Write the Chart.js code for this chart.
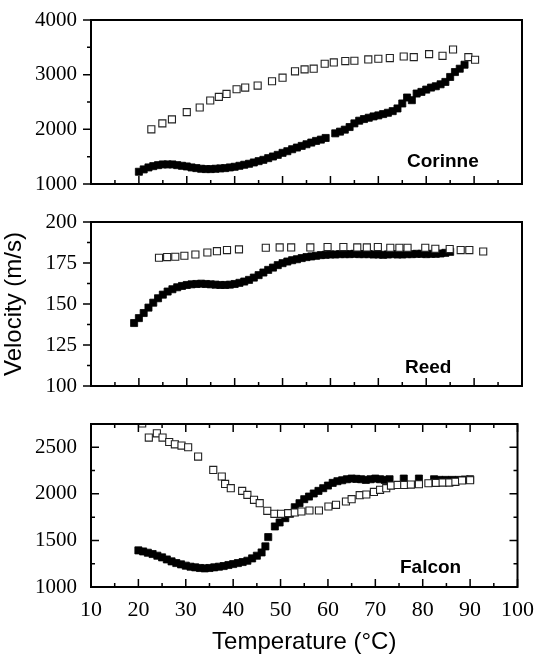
<!DOCTYPE html>
<html><head><meta charset="utf-8">
<script src="https://cdn.jsdelivr.net/npm/chart.js@4/dist/chart.umd.min.js"></script>
<style>
html,body{margin:0;padding:0;background:#fff;}
#wrap{position:relative;width:539px;height:659px;overflow:hidden;}
canvas{position:absolute;left:0;display:block;}
</style></head><body>
<div id="wrap">
<canvas id="c1" width="539" height="200" style="top:0;width:539px;height:200px"></canvas>
<canvas id="c2" width="539" height="200" style="top:200px;width:539px;height:200px"></canvas>
<canvas id="c3" width="539" height="259" style="top:400px;width:539px;height:259px"></canvas>
</div>
<script>
// ---------- data ----------
const xTicks = [10,20,30,40,50,60,70,80,90,100];
const corinneTicks = [1000,2000,3000,4000];
const reedTicks = [100,125,150,175,200];
const falconTicks = [1000,1500,2000,2500];

const corinneOpenT = [22.6,24.9,26.9,30.0,32.7,34.9,36.7,38.3,40.4,42.2,44.8,47.8,50.0,52.6,54.6,56.5,58.8,60.7,63.1,65.0,67.9,70.0,72.4,75.3,77.4,80.6,83.4,85.6,88.8,90.2];
const corinneOpenV = [2000,2109,2182,2315,2400,2527,2594,2648,2733,2764,2800,2879,2945,3061,3097,3109,3200,3224,3248,3255,3279,3291,3303,3333,3321,3376,3345,3461,3321,3273];
const corinneFilledT = [20,21,22,23,24,25,26,27,28,29,30,31,32,33,34,35,36,37,38,39,40,41,42,43,44,45,46,47,48,49,50,51,52,53,54,55,56,57,58,59,61,62,63,64,65,66,67,68,69,70,71,72,73,74,75,76,77,78,79,80,81,82,83,84,85,86,87,88];
const corinneFilledV = [1224,1267,1303,1327,1345,1358,1358,1358,1345,1333,1321,1303,1291,1279,1273,1273,1279,1285,1291,1303,1315,1333,1352,1370,1394,1418,1442,1473,1503,1533,1570,1600,1636,1667,1697,1727,1758,1788,1812,1842,1927,1958,1994,2042,2109,2158,2188,2212,2236,2255,2279,2303,2333,2382,2473,2582,2533,2655,2685,2727,2764,2788,2824,2867,2958,3048,3109,3182];

const reedOpenT = [24.2,25.9,27.6,29.5,31.8,34.3,36.3,38.4,40.9,46.5,49.4,51.8,55.8,59.4,62.7,65.6,67.6,69.9,72.5,74.4,76.1,79.8,81.9,84.9,87.2,89.0,91.9];
const reedOpenV = [178.2,178.6,178.8,179.4,180.2,181.4,182.2,182.9,183.3,184.3,184.5,184.5,184.5,184.7,184.7,184.5,184.5,184.7,184.3,184.3,184.3,184.3,183.7,183.5,182.9,182.9,182.0];
const reedFilledT = [19,20,21,22,23,24,25,26,27,28,29,30,31,32,33,34,35,36,37,38,39,40,41,42,43,44,45,46,47,48,49,50,51,52,53,54,55,56,57,58,59,60,61,62,63,64,65,66,67,68,69,70,71,72,73,74,75,76,77,78,79,80,81,82,83,84,85];
const reedFilledV = [138.4,141.4,144.5,147.8,150.8,153.5,155.7,157.6,159.0,160.2,161.0,161.6,162.0,162.2,162.4,162.2,162.0,161.8,161.6,161.6,161.8,162.2,162.9,163.7,164.7,166.1,167.6,169.2,170.8,172.2,173.7,174.9,175.9,176.7,177.3,178.0,178.6,179.0,179.4,179.8,180.0,180.2,180.2,180.4,180.4,180.4,180.6,180.4,180.4,180.4,180.2,180.2,180.0,180.2,180.4,180.2,180.2,180.4,180.4,180.6,180.6,180.4,180.6,180.6,180.8,181.2,181.8];

const falconOpenT = [20.8,22.2,23.9,25.1,26.5,27.7,29.1,30.5,32.6,35.8,37.6,38.3,39.5,41.9,43.0,44.4,45.6,47.2,48.7,50.1,51.6,53.0,54.4,56.1,58.1,60.1,61.7,63.8,65.0,66.7,68.1,69.7,71.0,72.3,73.3,74.7,76.1,77.5,79.2,81.2,82.8,84.2,85.6,86.9,88.3,90.0];
const falconOpenV = [2755,2604,2650,2604,2557,2532,2518,2500,2400,2257,2186,2107,2061,2032,1989,1936,1900,1818,1786,1786,1793,1800,1811,1821,1821,1864,1882,1918,1943,1986,1993,2021,2043,2061,2089,2096,2096,2100,2104,2114,2118,2121,2121,2129,2143,2146];
const falconFilledT = [20,21,22,23,24,25,26,27,28,29,30,31,32,33,34,35,36,37,38,39,40,41,42,43,44,45,46,46.8,47.4,48.8,49.8,51,52,53,54,55,56,57,58,59,60,61,62,63,64,65,66,67,68,69,70,71,72,73,76.0,79.2,82.4,83.5,84.8,86.2,87.6,88.9,90.0];
const falconFilledV = [1393,1382,1368,1354,1336,1318,1296,1275,1257,1243,1229,1218,1211,1204,1200,1204,1211,1218,1225,1236,1246,1257,1268,1282,1307,1336,1371,1436,1536,1650,1693,1739,1786,1857,1900,1943,1971,2004,2032,2061,2089,2118,2136,2146,2157,2164,2161,2157,2150,2157,2164,2157,2150,2157,2164,2164,2157,2150,2150,2150,2150,2154,2157];

// ---------- helpers ----------
const pts = (t, v) => t.map((x, i) => ({x: x, y: v[i]}));
const serifFam = "'Liberation Serif', 'DejaVu Serif', serif";
const sansFam = "'Liberation Sans', Arial, sans-serif";
Chart.defaults.font.family = serifFam;

function openSet(t, v) {
  return {data: pts(t, v), pointStyle: 'rect', pointRadius: 5, pointHoverRadius: 5,
    backgroundColor: '#fff', borderColor: '#222', borderWidth: 1.1, showLine: false};
}
function filledSet(t, v) {
  return {data: pts(t, v), pointStyle: 'rect', pointRadius: 5, pointHoverRadius: 5,
    backgroundColor: '#000', borderColor: '#000', borderWidth: 0.8, showLine: false};
}

function framePlugin(cfg) {
  return {
    id: 'frame',
    afterDraw(chart) {
      const ctx = chart.ctx, a = chart.chartArea;
      const xs = chart.scales.x, ys = chart.scales.y;
      ctx.save();
      ctx.strokeStyle = '#000';
      ctx.lineWidth = 1.5;
      ctx.beginPath();
      for (let v = cfg.xMin; v <= cfg.xMax + 1e-9; v += cfg.xMinor) {
        const px = xs.getPixelForValue(v);
        const major = Math.abs((v - cfg.xMin) / cfg.xMajor - Math.round((v - cfg.xMin) / cfg.xMajor)) < 1e-6;
        const L = major ? 8 : 4;
        ctx.moveTo(px, a.bottom); ctx.lineTo(px, a.bottom - L);
        if (cfg.mirror) { ctx.moveTo(px, a.top); ctx.lineTo(px, a.top + L); }
      }
      for (let v = cfg.yMin; v <= cfg.yMax + 1e-9; v += cfg.yMinor) {
        const py = ys.getPixelForValue(v);
        const major = Math.abs((v - cfg.yMin) / cfg.yMajor - Math.round((v - cfg.yMin) / cfg.yMajor)) < 1e-6;
        const L = major ? 8 : 4;
        if (cfg.yOut) { ctx.moveTo(a.left, py); ctx.lineTo(a.left - L, py); }
        else { ctx.moveTo(a.left, py); ctx.lineTo(a.left + L, py); }
        if (cfg.mirror) { ctx.moveTo(a.right, py); ctx.lineTo(a.right - L, py); }
      }
      ctx.stroke();
      ctx.lineWidth = 2;
      ctx.strokeRect(a.left, a.top, a.right - a.left, a.bottom - a.top);
      ctx.fillStyle = '#000';
      ctx.font = 'bold 19px ' + sansFam;
      ctx.textBaseline = 'alphabetic';
      ctx.textAlign = 'left';
      ctx.fillText(cfg.name, cfg.nameX, cfg.nameY);
      ctx.restore();
    }
  };
}

const hiddenTicks = len => ({display: true, drawOnChartArea: false, drawTicks: true,
  tickLength: len, color: 'rgba(0,0,0,0)', lineWidth: 0});

function makeChart(id, datasets, opt) {
  const showX = !!opt.showX;
  const pad = {left: 1, right: 16, top: opt.target.top, bottom: 10};
  const chart = new Chart(document.getElementById(id), {
    type: 'scatter',
    data: {datasets: datasets},
    options: {
      responsive: false, animation: false,
      events: [],
      layout: {padding: pad},
      plugins: {legend: {display: false}, tooltip: {enabled: false}},
      scales: {
        x: {
          type: 'linear', min: 10, max: 100, display: showX,
          afterBuildTicks: s => { s.ticks = xTicks.map(v => ({value: v})); },
          afterFit: s => { s.height = showX ? 72 : 0; },
          grid: hiddenTicks(5), border: {display: false},
          ticks: {color: '#000', font: {family: serifFam, size: 22}, padding: 5, maxRotation: 0,
                  callback: v => String(v)},
          title: {display: showX, text: 'Temperature (°C)', color: '#000',
                  font: {family: sansFam, size: 24}, padding: {top: 0, bottom: 2}}
        },
        y: {
          type: 'linear', min: opt.yMin, max: opt.yMax,
          afterBuildTicks: s => { s.ticks = opt.yTicks.map(v => ({value: v})); },
          afterFit: s => { s.width = 91; },
          grid: hiddenTicks(14), border: {display: false},
          ticks: {color: '#000', font: {family: serifFam, size: 21}, padding: 0,
                  callback: v => String(v)},
          title: {display: !!opt.yTitle, text: opt.yTitle || '', color: '#000',
                  font: {family: sansFam, size: 24}, padding: 0}
        }
      }
    },
    plugins: [framePlugin(opt.frame)]
  });
  const t = opt.target;
  for (let k = 0; k < 4; k++) {
    const a = chart.chartArea;
    pad.top = Math.max(0, pad.top + (t.top - a.top));
    pad.bottom = Math.max(0, pad.bottom + (a.bottom - t.bottom));
    pad.left = Math.max(0, pad.left + (t.left - a.left));
    pad.right = Math.max(0, pad.right + (a.right - t.right));
    chart.options.layout.padding = Object.assign({}, pad);
    chart.update('none');
  }
  return chart;
}

makeChart('c1', [openSet(corinneOpenT, corinneOpenV), filledSet(corinneFilledT, corinneFilledV)], {
  target: {top: 20, bottom: 184, left: 91, right: 522},
  yMin: 1000, yMax: 4000, yTicks: corinneTicks,
  frame: {xMin: 10, xMax: 100, xMajor: 10, xMinor: 5, yMin: 1000, yMax: 4000, yMajor: 1000, yMinor: 500,
          yOut: true, mirror: false, name: 'Corinne', nameX: 407, nameY: 167}
});
makeChart('c2', [openSet(reedOpenT, reedOpenV), filledSet(reedFilledT, reedFilledV)], {
  target: {top: 22, bottom: 186, left: 91, right: 522},
  yMin: 100, yMax: 200, yTicks: reedTicks, yTitle: 'Velocity (m/s)',
  frame: {xMin: 10, xMax: 100, xMajor: 10, xMinor: 5, yMin: 100, yMax: 200, yMajor: 25, yMinor: 12.5,
          yOut: true, mirror: false, name: 'Reed', nameX: 405, nameY: 173}
});
makeChart('c3', [openSet(falconOpenT, falconOpenV), filledSet(falconFilledT, falconFilledV)], {
  showX: true,
  target: {top: 24, bottom: 187, left: 91, right: 522},
  yMin: 1000, yMax: 2750, yTicks: falconTicks,
  frame: {xMin: 10, xMax: 100, xMajor: 10, xMinor: 5, yMin: 1000, yMax: 2750, yMajor: 500, yMinor: 250,
          yOut: false, mirror: true, name: 'Falcon', nameX: 400, nameY: 173}
});
</script>
</body></html>
